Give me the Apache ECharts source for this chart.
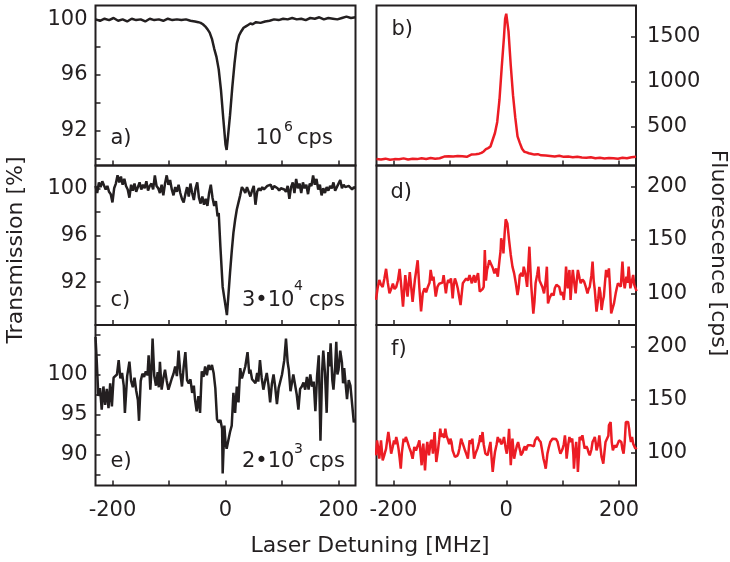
<!DOCTYPE html>
<html><head><meta charset="utf-8">
<script src="https://cdn.jsdelivr.net/npm/echarts@6/dist/echarts.min.js"></script>
<style>html,body{margin:0;padding:0;background:#fff}#c{width:730px;height:562px}</style>
</head><body><div id="c"></div>
<script>
// ---- axis ticks / labels ----
const xTicks = [-200, -100, 0, 100, 200];
const xLabels = [-200, 0, 200];
const aTicks = [90, 92, 94, 96, 98, 100];
const aLabels = [92, 96, 100];
const cTicks = [90, 92, 94, 96, 98, 100];
const cLabels = [92, 96, 100];
const eTicks = [87.5, 90, 92.5, 95, 97.5, 100, 102.5, 105];
const eLabels = [90, 95, 100];
const bTicks = [500, 1000, 1500];
const bLabels = [500, 1000, 1500];
const dfTicks = [100, 150, 200];
const dfLabels = [100, 150, 200];

// ---- a) transmission, 10^6 cps ----
const aX = [-230,-222,-214,-206,-198,-190,-182,-174,-166,-158,-150,-142,-134,-126,-118,-110,-102,-94,-86,-78,-70,-62,-54,-48,-44,-40,-36,-32,-28,-24,-20,-16,-12,-8,-4,0,2,4,8,12,16,20,24,28,32,36,40,44,48,54,62,70,78,86,94,102,110,118,126,134,142,150,158,166,174,182,190,198,206,214,222,230];
const aY = [100.0,99.9,100.05,99.95,100.1,99.9,100.0,99.85,100.05,99.95,100.0,99.85,100.05,99.95,100.0,99.9,100.05,99.95,100.0,99.95,100.0,99.9,99.85,99.8,99.75,99.65,99.5,99.3,99.05,98.6,97.9,97.3,96.4,94.9,92.9,91.0,90.6,91.4,93.1,95.1,96.85,98.25,98.85,99.15,99.4,99.5,99.6,99.7,99.65,99.8,99.75,99.85,99.9,100.0,99.95,100.05,100.0,100.1,100.0,100.05,99.95,100.1,100.05,100.15,100.0,100.1,100.05,100.0,100.1,100.2,100.1,100.15];

// ---- b) fluorescence ----
const bX = [-230,-222,-214,-206,-198,-190,-182,-174,-166,-158,-150,-142,-134,-126,-118,-110,-102,-94,-86,-78,-70,-62,-54,-48,-44,-40,-36,-32,-28,-24,-20,-16,-12,-8,-4,-2,0,2,4,8,12,16,20,24,28,32,36,40,44,50,56,62,70,78,86,94,102,110,118,126,134,142,150,158,166,174,182,190,198,206,214,222,230];
const bY = [140,135,145,132,140,138,148,136,145,140,150,142,152,145,150,168,172,170,175,172,165,190,195,200,210,225,250,262,280,355,430,553,800,1163,1500,1700,1755,1740,1560,1180,850,600,393,320,255,222,215,205,200,190,195,182,180,175,170,178,165,168,160,165,158,155,160,150,155,148,152,150,145,155,150,160,165];

// ---- c) transmission, 3*10^4 cps ----
const cX = [-230,-227,-224,-221,-218,-215,-212,-209,-206,-203,-200,-197,-194,-191,-188,-185,-182,-179,-176,-173,-170,-167,-164,-161,-158,-155,-152,-149,-146,-143,-140,-137,-134,-131,-128,-125,-122,-119,-116,-113,-110,-107,-104,-101,-98,-95,-92,-89,-86,-83,-80,-77,-74,-71,-68,-65,-62,-59,-56,-53,-50,-47,-44,-41,-38,-35,-32,-29,-26,-23,-20,-17,-14,-12,-9,-5,2.5,5,8,11,14,17,20,23,26,29,32,35,38,41,44,47,50,53,56,59,62,65,68,71,74,77,80,83,86,89,92,95,98,101,104,107,110,113,116,119,122,125,128,131,134,137,140,143,146,149,152,155,158,161,164,167,170,173,176,179,182,185,188,191,194,197,200,203,206,209,212,215,218,221,224,227,230];
const cY = [100.2,99.6,100.5,100.1,100.6,100.7,99.9,100.2,99.7,99.5,98.8,100.0,100.4,101.1,100.5,101.0,100.3,100.8,100.2,99.9,99.2,100.3,99.8,100.4,99.7,100.1,100.5,99.9,100.3,100.0,100.6,99.8,100.2,100.4,99.9,101.1,100.2,100.0,99.6,100.3,99.4,100.4,101.1,100.3,100.7,99.9,99.4,100.1,99.7,100.3,99.6,99.1,98.8,99.5,100.1,99.3,100.4,99.6,99.0,100.0,100.5,99.2,98.7,99.3,98.6,99.1,98.5,99.6,100.3,99.2,98.5,98.9,97.6,97.9,95.0,91.6,89.2,90.8,92.8,94.6,96.2,97.3,98.2,98.8,99.4,100.1,99.9,99.6,100.1,100.0,99.3,99.8,100.2,98.6,99.7,100.0,99.8,100.1,99.9,100.0,100.2,100.1,100.3,99.9,100.2,100.1,100.0,99.8,100.0,100.1,99.9,99.7,100.2,99.1,100.1,100.5,99.6,100.8,100.0,100.4,99.6,100.5,100.0,100.3,99.5,100.4,100.2,101.1,100.3,100.8,99.9,100.3,99.4,100.0,99.6,100.1,99.8,100.2,100.0,100.5,99.8,100.1,100.4,100.7,100.0,100.3,100.1,100.0,100.2,100.1,99.9,100.1,100.0];

// ---- d) fluorescence ----
const dX = [-231,-228,-225,-222,-219,-216,-213,-210,-207,-204,-201,-198,-195,-192,-189,-186,-183,-179,-175,-171,-166,-162,-157,-154,-151,-148,-145,-142,-139,-136,-134,-131,-129,-125,-122,-119,-116,-113,-111,-107,-105,-103,-100,-98,-95,-93,-91,-88,-86,-81,-77,-74,-71,-68,-65,-61,-59,-57,-55,-53,-50,-47,-44,-42,-40,-38,-36,-34,-32,-30,-27,-24,-21,-18,-15,-12,-10,-9,-7,-6,-5,-3,-1,1,2,5,8,11,14,17,20,22,24,27,29,31,34,37,41,44,46,48,50,52,55,57,59,61,64,67,70,72,74,77,81,84,86,89,91,94,97,100,102,104,106,109,112,114,116,118,121,123,125,127,130,132,135,138,141,144,146,148,151,153,155,157,160,163,165,167,169,171,173,175,177,180,182,184,186,188,191,194,196,198,201,203,206,208,210,213,215,217,220,222,225,227,229,231];
const dY = [93.8,105,112.5,108,106,114,123,110,100,104,109,104,106,112,123,106,87.5,117,97,120,92,112.5,131,105,83,100,104.7,101,106,110,122,112,115.6,96.9,106,109,107.8,110,117,100,108,112.5,110,114,95.3,108,114,109,104.7,89,109.4,108,114,112,117,109.4,114,117,110,109.4,119,101.6,100,104,106,140.6,112,122,126,131,131,124,118.75,123.4,115.6,131,140,151.6,145,150,137.5,155,169.4,168,165.6,150,136,125,118.75,109.4,98.4,105,117,119,115.6,125,118,106,143.75,109.4,95,81,92,109.4,118,125,112,111,106,100,112,125,90.6,96,100,98,104.7,108,109.4,106,98.4,101,93.75,105,125,104.7,121.9,93.75,110,121.9,108,100,112,121.9,114,109.4,113,111,106,100,104,106,117,129.7,112,103,82.8,95,106,100,84.4,92,97,110,121.9,115,123.4,105,81.25,85,90.6,100,105,109.4,108,106.25,129.7,112,104.7,115.6,110,125,104.7,110,117.2,108,107.8,102];

// ---- e) transmission, 2*10^3 cps ----
const eX = [-230,-228,-225,-222,-219,-216,-213,-210,-207,-204,-201,-198,-195,-192,-189,-186,-183,-180,-178,-174,-170,-167,-164,-161,-158,-155,-153,-150,-147,-144,-141,-138,-136,-133,-131,-129,-126,-123,-120,-118,-116,-113,-110,-107,-104,-101,-98,-95,-92,-89,-86,-83,-80,-77,-74,-71,-68,-65,-62,-59,-56,-54,-51,-48,-45,-42,-39,-36,-33,-30,-27,-24,-21,-18,-15,-12,-9,-6,-5,-2,0,2,5,8,11,14,17,20,23,26,29,32,35,39,42,44,47,50,53,56,58,61,64,67,70,73,76,79,82,85,88,91,94,97,100,104,107,110,112,115,117,120,123,126,129,132,135,138,141,144,147,150,153,156,159,162,165,168,171,173,176,179,182,184,186,189,191,194,196,198,200,203,206,208,210,212,215,218,221,224,227,229];
const eY = [104.7,102.0,97.3,98.3,95.6,98.5,96.2,98.2,95.8,98.9,96.0,99.6,99.4,100.0,101.8,99.5,100.2,98.6,95.2,99.8,101.6,99.2,98.4,99.6,98.0,96.8,94.2,99.2,100.1,99.7,100.4,99.9,102.4,98.1,100.6,104.5,99.8,98.6,100.3,98.4,101.6,98.1,99.5,100.6,99.2,98.1,98.8,99.5,100.1,101.0,99.8,103.0,100.2,98.5,101.0,102.8,99.3,98.9,99.4,97.7,98.6,96.9,95.4,97.3,95.2,100.4,99.7,101.0,99.9,101.2,100.6,101.2,100.2,98.3,94.4,94.0,94.3,93.2,87.6,93.6,91.5,90.7,90.5,92.8,93.6,97.7,95.2,98.5,96.5,100.8,99.5,99.3,101.0,102.8,100.1,100.6,99.4,99.3,98.9,100.2,99.1,101.8,99.6,98.1,99.2,100.2,98.7,96.5,98.8,100.0,98.4,96.3,98.3,98.5,100.0,101.8,104.5,101.5,100.6,97.9,98.1,100.0,99.8,97.5,95.6,98.2,98.5,99.0,98.1,99.7,98.1,100.0,98.5,99.1,95.4,99.8,102.4,91.7,100.5,103.0,100.2,95.2,102.8,101.0,103.9,99.3,98.1,101.0,104.1,100.0,100.6,103.0,101.5,98.9,100.8,101.0,96.9,99.3,98.6,98.6,94.0,94.5];

// ---- f) fluorescence ----
const fX = [-231,-229,-227,-225,-222,-219,-216,-213,-211,-209,-206,-204,-201,-199,-197,-195,-193,-191,-189,-187,-185,-182,-180,-178,-175,-172,-169,-166,-163,-160,-158,-156,-154,-152,-150,-148,-147,-144,-142,-140,-137,-134,-132,-130,-127,-124,-121,-119,-117,-115,-113,-110,-108,-106,-104,-101,-99,-97,-95,-93,-91,-89,-87,-85,-83,-80,-78,-76,-73,-71,-68,-65,-62,-60,-58,-57,-54,-51,-48,-46,-44,-42,-40,-37,-35,-33,-30,-28,-26,-24,-22,-20,-17,-15,-13,-11,-9,-8,-6,-4,-1,1,3,4,5,7,8,10,11,13,14,16,19,21,23,25,26,29,31,33,35,38,41,44,47,49,51,53,55,58,61,63,66,68,70,73,75,78,80,82,85,88,91,94,96,98,100,102,104,106,107,110,112,114,117,119,120,122,124,126,127,129,130,133,135,137,139,142,144,146,148,151,153,155,157,159,160,163,165,167,169,171,172,174,176,179,181,182,185,187,189,192,195,197,200,202,204,206,208,210,212,214,216,218,219,221,223,225,227,229,231];
const fY = [97.5,111.6,104,94.3,111.6,92.8,98,103.8,112,119.5,108,99.1,106,111.6,108,114.8,110,103.8,95,84.9,100,113.2,110,114.8,110.1,105,100.6,94.3,105.3,102,103.8,108,111.6,100,88.1,105,108.5,83.3,100,110.1,97.5,110.1,112,99.1,119.5,91.2,102.2,112,122.6,115,117.9,114,122.6,116,113.2,108,113.2,110,102,99.1,96,94.3,97,99.1,104,113.2,110,106.9,102,99.1,94.3,111.6,108.5,113.2,100,94.3,100,103.8,110,116.4,110,119.5,108,99.1,100,97.5,105,110.1,95,81.8,92,100.6,108,114.8,110,113.2,108,106.9,110,114.8,104,99.1,108,114.8,122.6,100,88.1,105,113.2,100,94.3,100,106.9,110,105.3,101,97.5,100,103.8,106,102.2,106.9,105.3,106.9,108.5,106,111.6,112,114.8,112,110.1,104,94.3,90,84.9,99.1,104,110.1,111.6,113.2,111.6,113,110.1,103,99.1,100,103.8,108,116.4,105,94.3,108,114.8,110.1,113.2,98,84.9,100,110.1,95,81.8,100,114.8,112,116.4,110,103.8,106,103.8,100,97.5,103,110.1,112,114.8,108,102.2,108,116.4,105,95.9,92,89.6,100,110.1,108.5,116,125.8,128.9,110,102.2,106.9,105,103.8,111.6,110,110.1,103,99.1,110,128.9,128,128.9,122,116.4,110,114.8,108.5,110,103.8,105];

const INK = '#231f20';
const RED = '#ec1c24';
const FONT = 'DejaVu Sans';

function pairs(xs, ys) { return xs.map((x, i) => [x, ys[i]]); }
function plain(v) { return String(v); }

const grids = [
  {left: 95.5, top: 5.5, width: 260, height: 160},
  {left: 376.5, top: 5.5, width: 259.5, height: 160},
  {left: 95.5, top: 165.5, width: 260, height: 159.5},
  {left: 376.5, top: 165.5, width: 259.5, height: 159.5},
  {left: 95.5, top: 325, width: 260, height: 160.5},
  {left: 376.5, top: 325, width: 259.5, height: 160.5}
].map(g => Object.assign(g, {show: true, borderColor: INK, borderWidth: 2, backgroundColor: 'transparent'}));

function mkX(gi, showLabels) {
  return {type: 'value', gridIndex: gi, min: -230, max: 230, position: 'bottom',
    axisLine: {show: false, onZero: false}, splitLine: {show: false},
    axisTick: {show: true, inside: true, length: 5, customValues: xTicks, lineStyle: {color: INK, width: 1.5}},
    axisLabel: {show: showLabels, customValues: xLabels, formatter: plain, margin: 15, color: INK, fontFamily: FONT, fontSize: 21}};
}
function mkY(gi, pos, min, max, ticks, labels) {
  return {type: 'value', gridIndex: gi, min: min, max: max, position: pos,
    axisLine: {show: false, onZero: false}, splitLine: {show: false},
    axisTick: {show: true, inside: true, length: 5, customValues: ticks, lineStyle: {color: INK, width: 1.5}},
    axisLabel: {show: true, customValues: labels, formatter: plain, margin: pos === 'left' ? 8 : 11, color: INK, fontFamily: FONT, fontSize: 21}};
}
function mkS(gi, xs, ys, color) {
  return {type: 'line', xAxisIndex: gi, yAxisIndex: gi, data: pairs(xs, ys), showSymbol: false, symbol: 'none',
    lineStyle: {color: color, width: 2.5}, silent: true, animation: false, clip: true};
}
function txt(x, y, s, size, align, rot) {
  return {type: 'text', x: x, y: y, rotation: rot || 0, silent: true,
    style: {text: s, fill: INK, font: size + 'px "' + FONT + '"', textAlign: align || 'left', textVerticalAlign: 'middle'}};
}

const option = {
  animation: false,
  backgroundColor: '#fff',
  grid: grids,
  xAxis: [mkX(0, false), mkX(1, false), mkX(2, false), mkX(3, false), mkX(4, true), mkX(5, true)],
  yAxis: [
    mkY(0, 'left', 89.48, 101.0, aTicks, aLabels),
    mkY(1, 'right', 69, 1847, bTicks, bLabels),
    mkY(2, 'left', 88.36, 101.94, cTicks, cLabels),
    mkY(3, 'right', 70.3, 219.9, dfTicks, dfLabels),
    mkY(4, 'left', 86.1, 106.2, eTicks, eLabels),
    mkY(5, 'right', 69, 220.5, dfTicks, dfLabels)
  ],
  series: [
    mkS(0, aX, aY, INK), mkS(1, bX, bY, RED),
    mkS(2, cX, cY, INK), mkS(3, dX, dY, RED),
    mkS(4, eX, eY, INK), mkS(5, fX, fY, RED)
  ],
  graphic: [
    txt(110.5, 139, 'a)', 21), txt(391.5, 30, 'b)', 21),
    txt(110.5, 301, 'c)', 21), txt(390.5, 192.5, 'd)', 21),
    txt(110.5, 462, 'e)', 21), txt(391, 349.5, 'f)', 21),
    txt(255.5, 139, '10', 21), txt(284, 127, '6', 14), txt(297, 139, 'cps', 21),
    txt(242, 301, '3\u202210', 21), txt(294, 286.5, '4', 14), txt(309, 301, 'cps', 21),
    txt(242, 462, '2\u202210', 21), txt(294, 449, '3', 14), txt(309, 462, 'cps', 21),
    txt(16, 250, 'Transmission [%]', 22, 'center', Math.PI / 2),
    txt(718, 253, 'Fluorescence [cps]', 22, 'center', -Math.PI / 2),
    txt(370, 546, 'Laser Detuning [MHz]', 22, 'center')
  ]
};
const chart = echarts.init(document.getElementById('c'), null, {renderer: 'canvas'});
chart.setOption(option);
</script></body></html>
